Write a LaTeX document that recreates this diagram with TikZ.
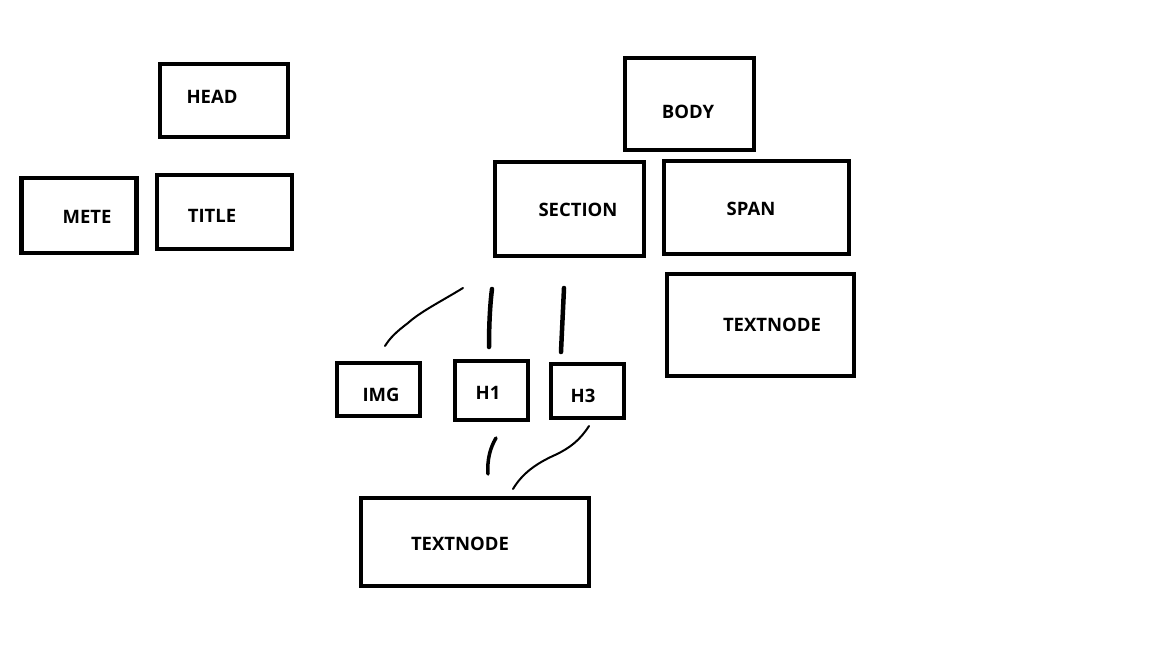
\documentclass[tikz,border=0pt]{standalone}
\usepackage{fontspec}
\setmainfont{Open Sans}
\begin{document}
\begin{tikzpicture}[x=1pt,y=-1pt,
  box/.style={draw,line width=4.3pt,inner sep=0pt,minimum width=#1},
  lbl/.style={font=\bfseries\fontsize{18.5}{22}\selectfont,inner sep=0pt},
  thin stroke/.style={line width=2pt,line cap=round},
  thick stroke/.style={line width=4.5pt,line cap=round}]
\useasboundingbox (0,0) rectangle (1152,648);
\node[box=128pt,minimum height=73pt] (head) at (224,100.5) {};
\node[box=115pt,minimum height=75pt] (mete) at (79,215.5) {};
\node[box=135pt,minimum height=74pt] (title) at (224.5,212) {};
\node[box=129pt,minimum height=92pt] (body) at (689.5,104) {};
\node[box=149pt,minimum height=94pt] (section) at (569.5,209) {};
\node[box=185pt,minimum height=93pt] (span) at (756.5,207.5) {};
\node[box=187pt,minimum height=102pt] (textnodeR) at (760.5,325) {};
\node[box=83pt,minimum height=53pt] (img) at (378.5,389.5) {};
\node[box=73pt,minimum height=59pt] (h1) at (491.5,390.5) {};
\node[box=73pt,minimum height=54pt] (h3) at (587.5,391) {};
\node[box=228pt,minimum height=88pt] (textnodeB) at (475,542) {};
\node[lbl] (thead) at (212,97) {HEAD};
\node[lbl] (tmete) at (87,217) {METE};
\node[lbl] (ttitle) at (212,216) {TITLE};
\node[lbl] (tbody) at (688,112) {BODY};
\node[lbl] (tsection) at (578,210) {SECTION};
\node[lbl] (tspan) at (751,209) {SPAN};
\node[lbl] (ttextnodeR) at (772,325) {TEXTNODE};
\node[lbl] (timg) at (381,395) {IMG};
\node[lbl] (th1) at (488,393) {H1};
\node[lbl] (th3) at (583,396) {H3};
\node[lbl] (ttextnodeB) at (460,544) {TEXTNODE};
\draw[thin stroke] (463,288) .. controls (440,302) and (420,312) .. (408,323) .. controls (396,332) and (390,338) .. (385,346);
\draw[thick stroke] (492,289) .. controls (490,305) and (489,325) .. (489,347);
\draw[thick stroke] (564,288) .. controls (563,310) and (562,330) .. (561,352);
\draw[line width=3.5pt,line cap=round] (496,438) .. controls (490,448) and (487,460) .. (488,474);
\draw[thin stroke] (589,426) .. controls (580,440) and (570,448) .. (555,455) .. controls (535,464) and (522,474) .. (513,489);
\end{tikzpicture}
\end{document}
